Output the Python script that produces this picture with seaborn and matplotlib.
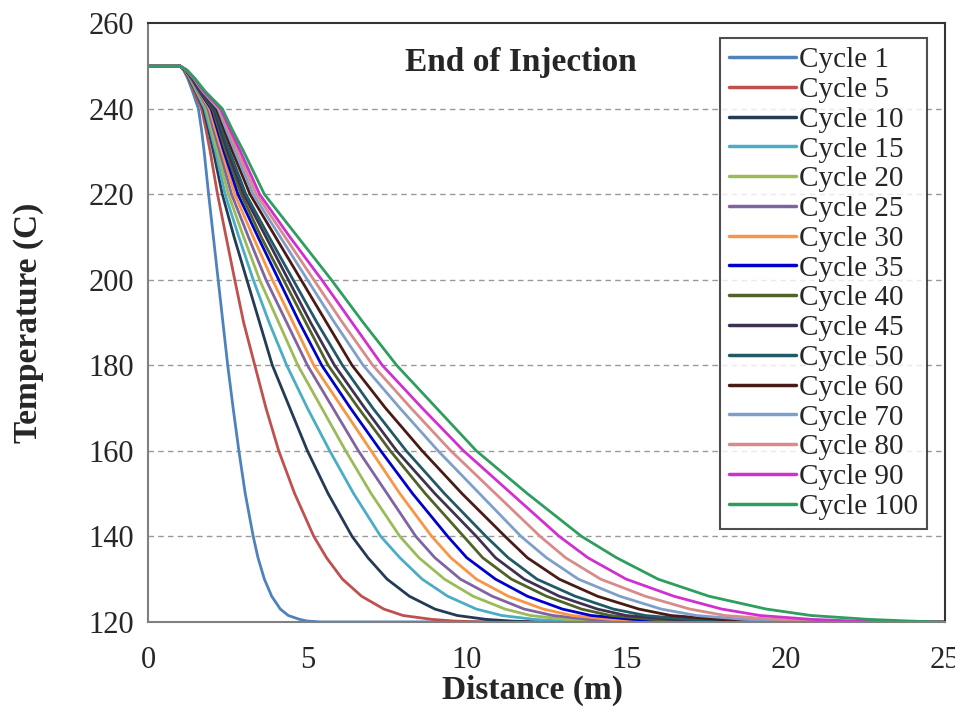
import numpy as np
import pandas as pd
import matplotlib
matplotlib.use("Agg")
import matplotlib.pyplot as plt
import seaborn as sns

levels = [250, 250, 249, 247, 244, 240, 235, 230, 220, 210, 200, 190, 180,
          170, 160, 150, 140, 135, 130, 126, 123, 121.5, 120.6, 120.2, 120, 120]

cycles = ["Cycle 1", "Cycle 5", "Cycle 10", "Cycle 15", "Cycle 20", "Cycle 25",
          "Cycle 30", "Cycle 35", "Cycle 40", "Cycle 45", "Cycle 50", "Cycle 60",
          "Cycle 70", "Cycle 80", "Cycle 90", "Cycle 100"]

# Distance (m) where each curve reaches the corresponding temperature level
c1 = [0, 1.0, 1.12, 1.25, 1.4, 1.58, 1.68, 1.76, 1.9, 2.05, 2.2, 2.35, 2.5, 2.67, 2.85, 3.05, 3.3, 3.45, 3.65, 3.88, 4.15, 4.4, 4.75, 5.0, 5.4, 25]
c5 = [0, 1.0, 1.13, 1.28, 1.45, 1.68, 1.82, 1.95, 2.18, 2.45, 2.72, 3.0, 3.35, 3.7, 4.1, 4.6, 5.2, 5.6, 6.1, 6.7, 7.4, 8.0, 8.9, 9.6, 10.5, 25]
c10 = [0, 1.0, 1.14, 1.3, 1.5, 1.74, 1.9, 2.05, 2.33, 2.7, 3.1, 3.5, 3.9, 4.45, 5.0, 5.65, 6.4, 6.9, 7.5, 8.2, 9.0, 9.7, 10.6, 11.4, 12.2, 25]
c15 = [0, 1.0, 1.15, 1.32, 1.52, 1.78, 1.95, 2.12, 2.42, 2.85, 3.3, 3.8, 4.35, 5.0, 5.7, 6.45, 7.3, 7.9, 8.6, 9.4, 10.3, 11.1, 12.1, 13.0, 13.8, 25]
c20 = [0, 1.0, 1.16, 1.34, 1.55, 1.83, 2.0, 2.18, 2.52, 3.0, 3.5, 4.1, 4.7, 5.45, 6.2, 7.0, 7.9, 8.5, 9.3, 10.2, 11.2, 12.0, 13.1, 14.0, 14.9, 25]
c25 = [0, 1.0, 1.17, 1.36, 1.58, 1.88, 2.06, 2.25, 2.62, 3.15, 3.7, 4.35, 5.0, 5.8, 6.6, 7.5, 8.4, 9.0, 9.8, 10.8, 11.8, 12.7, 13.8, 14.8, 15.7, 25]
c30 = [0, 1.0, 1.17, 1.37, 1.6, 1.93, 2.12, 2.32, 2.72, 3.3, 3.9, 4.55, 5.2, 6.1, 7.0, 7.9, 8.9, 9.5, 10.3, 11.3, 12.4, 13.3, 14.5, 15.5, 16.5, 25]
c35 = [0, 1.0, 1.18, 1.38, 1.62, 1.98, 2.18, 2.38, 2.82, 3.45, 4.1, 4.75, 5.45, 6.35, 7.3, 8.3, 9.4, 10.0, 10.9, 11.9, 13.0, 13.9, 15.2, 16.3, 17.3, 25]
c40 = [0, 1.0, 1.18, 1.39, 1.64, 2.02, 2.23, 2.44, 2.92, 3.55, 4.25, 4.95, 5.65, 6.6, 7.6, 8.7, 9.9, 10.5, 11.4, 12.5, 13.6, 14.5, 15.8, 16.9, 18.0, 25]
c45 = [0, 1.0, 1.19, 1.4, 1.66, 2.06, 2.28, 2.5, 3.0, 3.7, 4.4, 5.1, 5.85, 6.8, 7.8, 9.0, 10.3, 10.9, 11.8, 12.9, 14.1, 15.0, 16.4, 17.5, 18.6, 25]
c50 = [0, 1.0, 1.19, 1.41, 1.68, 2.1, 2.33, 2.56, 3.07, 3.8, 4.55, 5.3, 6.1, 7.05, 8.1, 9.3, 10.6, 11.3, 12.2, 13.4, 14.6, 15.6, 17.0, 18.2, 19.3, 25]
c60 = [0, 1.0, 1.2, 1.42, 1.7, 2.15, 2.4, 2.65, 3.2, 4.0, 4.8, 5.6, 6.4, 7.45, 8.6, 9.85, 11.2, 11.9, 12.9, 14.1, 15.4, 16.4, 17.9, 19.1, 20.3, 25]
c70 = [0, 1.0, 1.21, 1.44, 1.72, 2.2, 2.46, 2.73, 3.3, 4.15, 5.0, 5.85, 6.75, 7.9, 9.1, 10.4, 11.7, 12.5, 13.5, 14.8, 16.1, 17.2, 18.7, 20.0, 21.2, 25]
c80 = [0, 1.0, 1.21, 1.45, 1.74, 2.24, 2.52, 2.81, 3.4, 4.3, 5.2, 6.1, 7.05, 8.25, 9.5, 10.9, 12.3, 13.1, 14.2, 15.6, 17.0, 18.1, 19.7, 21.0, 22.2, 25]
c90 = [0, 1.0, 1.22, 1.46, 1.76, 2.28, 2.58, 2.9, 3.5, 4.45, 5.45, 6.4, 7.35, 8.6, 9.9, 11.4, 12.9, 13.8, 15.0, 16.5, 18.0, 19.2, 20.8, 22.2, 23.5, 25]
c100 = [0, 1.0, 1.23, 1.48, 1.8, 2.33, 2.65, 3.0, 3.65, 4.7, 5.75, 6.75, 7.8, 9.05, 10.3, 11.9, 13.6, 14.7, 16.0, 17.6, 19.4, 20.8, 22.6, 23.9, 24.8, 25]

distances = [c1, c5, c10, c15, c20, c25, c30, c35, c40, c45, c50, c60,
             c70, c80, c90, c100]

colors = ["#4F81BD", "#C0504D", "#243B55", "#4BACC6", "#9BBB59", "#8064A2",
          "#F79646", "#0000CC", "#4F6228", "#3F3151", "#215967", "#4A1A16",
          "#7F9FCB", "#D98A8A", "#D030D0", "#2E9E5E"]

x_ticks = [0, 5, 10, 15, 20, 25]
y_ticks = [120, 140, 160, 180, 200, 220, 240, 260]

rows = []
for name, xs in zip(cycles, distances):
    for xv, tv in zip(xs, levels):
        rows.append({"Distance": xv, "Temperature": tv, "Cycle": name})
df = pd.DataFrame(rows)

sns.set_style("white")
plt.rcParams["font.family"] = ["Liberation Serif", "DejaVu Serif"]

fig = plt.figure(figsize=(9.55, 7.24), dpi=100)
ax = fig.add_axes([0.155, 0.141, 0.8345, 0.827])

sns.lineplot(data=df, x="Distance", y="Temperature", hue="Cycle",
             hue_order=cycles, palette=colors, estimator=None, sort=False,
             linewidth=2.0, ax=ax)

ax.set_xlim(0, 25)
ax.set_ylim(120, 260)
ax.set_xticks(x_ticks)
ax.set_yticks(y_ticks)
ax.set_xticklabels([str(v) for v in x_ticks], fontsize=22)
ax.set_yticklabels([str(v) for v in y_ticks], fontsize=22)
ax.tick_params(axis="both", direction="out", length=7, width=1.2,
               color="#777777")
ax.tick_params(axis="y", pad=3)
ax.tick_params(axis="x", pad=10)

for yv in y_ticks[1:-1]:
    ax.axhline(yv, color="#9a9a9a", linestyle=(0, (4, 3)), linewidth=1.0,
               zorder=0)

for side in ["left", "bottom"]:
    ax.spines[side].set_color("#808080")
    ax.spines[side].set_linewidth(1.5)
for side in ["top", "right"]:
    ax.spines[side].set_color("#333333")
    ax.spines[side].set_linewidth(1.5)

ax.set_xlabel("Distance (m)", fontsize=24, fontweight="bold")
ax.set_ylabel("Temperature (C)", fontsize=24, fontweight="bold")
ax.xaxis.set_label_coords(0.483, -0.088)
ax.xaxis.label.set_va("top")
ax.yaxis.set_label_coords(-0.13, 0.5)

ax.text(0.468, 0.935, "End of Injection", transform=ax.transAxes,
        fontsize=24, fontweight="bold", ha="center", va="center")

leg = ax.legend(loc="upper left", bbox_to_anchor=(0.718, 0.975),
                borderaxespad=0, fontsize=21, handlelength=2.3,
                handletextpad=0.1, labelspacing=0.115, frameon=True,
                fancybox=False, borderpad=0.3)
leg.get_frame().set_edgecolor("#222222")
leg.get_frame().set_linewidth(1.5)
for line in leg.get_lines():
    line.set_linewidth(2.5)

fig.savefig("out.png", dpi=100)
